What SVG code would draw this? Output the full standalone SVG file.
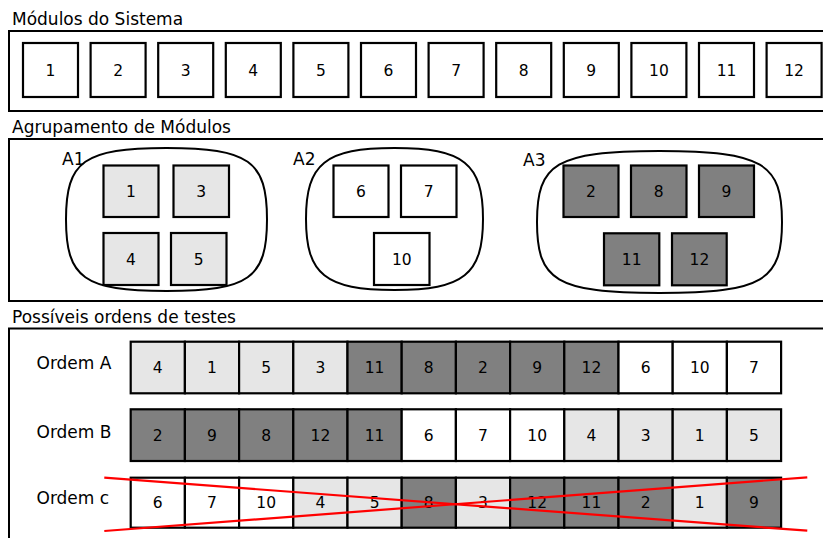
<svg xmlns="http://www.w3.org/2000/svg" width="823" height="538" viewBox="0 0 823 538">
<style>
text{font-family:"DejaVu Sans","Liberation Sans",sans-serif;fill:#000}
.t{font-size:17px}
.n{font-size:15.5px;text-anchor:middle}
.frame{fill:#fff;stroke:#000;stroke-width:2}
.b{stroke:#000;stroke-width:2.2}
.w{fill:#fff}
.l{fill:#e6e6e6}
.d{fill:#808080}
.blob{fill:none;stroke:#000;stroke-width:2}
.x{stroke:#f00;stroke-width:2.2;fill:none}
</style>
<rect width="823" height="538" fill="#fff"/>

<!-- Section 1 -->
<text class="t" x="12" y="25">Módulos do Sistema</text>
<rect class="frame" x="9" y="31" width="830" height="80"/>
<g id="m1"><rect class="b w" x="23" y="43" width="55" height="54"/><text class="n" x="50.5" y="75.5">1</text></g>
<g id="m2"><rect class="b w" x="90.6" y="43" width="55" height="54"/><text class="n" x="118.1" y="75.5">2</text></g>
<g id="m3"><rect class="b w" x="158.2" y="43" width="55" height="54"/><text class="n" x="185.7" y="75.5">3</text></g>
<g id="m4"><rect class="b w" x="225.8" y="43" width="55" height="54"/><text class="n" x="253.3" y="75.5">4</text></g>
<g id="m5"><rect class="b w" x="293.4" y="43" width="55" height="54"/><text class="n" x="320.9" y="75.5">5</text></g>
<g id="m6"><rect class="b w" x="361" y="43" width="55" height="54"/><text class="n" x="388.5" y="75.5">6</text></g>
<g id="m7"><rect class="b w" x="428.6" y="43" width="55" height="54"/><text class="n" x="456.1" y="75.5">7</text></g>
<g id="m8"><rect class="b w" x="496.2" y="43" width="55" height="54"/><text class="n" x="523.7" y="75.5">8</text></g>
<g id="m9"><rect class="b w" x="563.8" y="43" width="55" height="54"/><text class="n" x="591.3" y="75.5">9</text></g>
<g id="m10"><rect class="b w" x="631.4" y="43" width="55" height="54"/><text class="n" x="658.9" y="75.5">10</text></g>
<g id="m11"><rect class="b w" x="699" y="43" width="55" height="54"/><text class="n" x="726.5" y="75.5">11</text></g>
<g id="m12"><rect class="b w" x="766.6" y="43" width="55" height="54"/><text class="n" x="794.1" y="75.5">12</text></g>

<!-- Section 2 -->
<text class="t" x="12" y="132.5">Agrupamento de Módulos</text>
<rect class="frame" x="9" y="139" width="830" height="162"/>
<g id="A1">
<path class="blob" d="M166.5,148 C248.9,148 267,160.9 267,219.5 C267,278.1 248.9,291 166.5,291 C84.1,291 66,278.1 66,219.5 C66,160.9 84.1,148 166.5,148 Z"/>
<text class="t" x="62" y="165">A1</text>
<rect class="b l" x="103.5" y="165.5" width="55" height="51.5"/><text class="n" x="131" y="197">1</text>
<rect class="b l" x="173.5" y="165.5" width="55.5" height="51.5"/><text class="n" x="201.3" y="197">3</text>
<rect class="b l" x="103.5" y="233" width="55" height="52"/><text class="n" x="131" y="264.5">4</text>
<rect class="b l" x="171" y="233" width="55.5" height="52"/><text class="n" x="198.8" y="264.5">5</text>
</g>
<g id="A2">
<path class="blob" d="M394.5,148 C463.5,148 483,163.6 483,219 C483,274.4 463.5,290 394.5,290 C325.5,290 306,274.4 306,219 C306,163.6 325.5,148 394.5,148 Z"/>
<text class="t" x="293" y="165">A2</text>
<rect class="b w" x="333.5" y="165.5" width="55" height="51.5"/><text class="n" x="361" y="197">6</text>
<rect class="b w" x="401" y="165.5" width="55.5" height="51.5"/><text class="n" x="428.8" y="197">7</text>
<rect class="b w" x="374" y="233" width="55.5" height="52"/><text class="n" x="401.8" y="264.5">10</text>
</g>
<g id="A3">
<path class="blob" d="M659.5,151 C763.6,151 782,163.8 782,222 C782,280.2 763.6,293 659.5,293 C555.4,293 537,280.2 537,222 C537,163.8 555.4,151 659.5,151 Z"/>
<text class="t" x="523" y="166">A3</text>
<rect class="b d" x="563.5" y="165.5" width="55" height="51.5"/><text class="n" x="591" y="197">2</text>
<rect class="b d" x="631" y="165.5" width="55.5" height="51.5"/><text class="n" x="658.8" y="197">8</text>
<rect class="b d" x="699" y="165.5" width="55" height="51.5"/><text class="n" x="726.5" y="197">9</text>
<rect class="b d" x="604" y="233.3" width="55.3" height="52"/><text class="n" x="631.7" y="264.5">11</text>
<rect class="b d" x="672" y="233.3" width="54.7" height="52"/><text class="n" x="699.4" y="264.5">12</text>
</g>

<!-- Section 3 -->
<text class="t" x="12" y="322.5">Possíveis ordens de testes</text>
<rect class="frame" x="9" y="328.5" width="830" height="300"/>

<g id="ordemA">
<text class="t" x="36.5" y="368.5">Ordem A</text>
<rect class="b l" x="130.7" y="341.7" width="54.2" height="51.6"/><text class="n" x="157.8" y="373">4</text>
<rect class="b l" x="184.9" y="341.7" width="54.2" height="51.6"/><text class="n" x="212" y="373">1</text>
<rect class="b l" x="239.1" y="341.7" width="54.2" height="51.6"/><text class="n" x="266.2" y="373">5</text>
<rect class="b l" x="293.3" y="341.7" width="54.2" height="51.6"/><text class="n" x="320.4" y="373">3</text>
<rect class="b d" x="347.5" y="341.7" width="54.2" height="51.6"/><text class="n" x="374.6" y="373">11</text>
<rect class="b d" x="401.7" y="341.7" width="54.2" height="51.6"/><text class="n" x="428.8" y="373">8</text>
<rect class="b d" x="455.9" y="341.7" width="54.2" height="51.6"/><text class="n" x="483" y="373">2</text>
<rect class="b d" x="510.1" y="341.7" width="54.2" height="51.6"/><text class="n" x="537.2" y="373">9</text>
<rect class="b d" x="564.3" y="341.7" width="54.2" height="51.6"/><text class="n" x="591.4" y="373">12</text>
<rect class="b w" x="618.5" y="341.7" width="54.2" height="51.6"/><text class="n" x="645.6" y="373">6</text>
<rect class="b w" x="672.7" y="341.7" width="54.2" height="51.6"/><text class="n" x="699.8" y="373">10</text>
<rect class="b w" x="726.9" y="341.7" width="54.2" height="51.6"/><text class="n" x="754" y="373">7</text>
</g>

<g id="ordemB">
<text class="t" x="36.5" y="437.5">Ordem B</text>
<rect class="b d" x="130.7" y="409.3" width="54.2" height="51.7"/><text class="n" x="157.8" y="440.5">2</text>
<rect class="b d" x="184.9" y="409.3" width="54.2" height="51.7"/><text class="n" x="212" y="440.5">9</text>
<rect class="b d" x="239.1" y="409.3" width="54.2" height="51.7"/><text class="n" x="266.2" y="440.5">8</text>
<rect class="b d" x="293.3" y="409.3" width="54.2" height="51.7"/><text class="n" x="320.4" y="440.5">12</text>
<rect class="b d" x="347.5" y="409.3" width="54.2" height="51.7"/><text class="n" x="374.6" y="440.5">11</text>
<rect class="b w" x="401.7" y="409.3" width="54.2" height="51.7"/><text class="n" x="428.8" y="440.5">6</text>
<rect class="b w" x="455.9" y="409.3" width="54.2" height="51.7"/><text class="n" x="483" y="440.5">7</text>
<rect class="b w" x="510.1" y="409.3" width="54.2" height="51.7"/><text class="n" x="537.2" y="440.5">10</text>
<rect class="b l" x="564.3" y="409.3" width="54.2" height="51.7"/><text class="n" x="591.4" y="440.5">4</text>
<rect class="b l" x="618.5" y="409.3" width="54.2" height="51.7"/><text class="n" x="645.6" y="440.5">3</text>
<rect class="b l" x="672.7" y="409.3" width="54.2" height="51.7"/><text class="n" x="699.8" y="440.5">1</text>
<rect class="b l" x="726.9" y="409.3" width="54.2" height="51.7"/><text class="n" x="754" y="440.5">5</text>
</g>

<g id="ordemC">
<text class="t" x="36.5" y="504">Ordem c</text>
<rect class="b w" x="130.7" y="477.7" width="54.2" height="50"/><text class="n" x="157.8" y="508">6</text>
<rect class="b w" x="184.9" y="477.7" width="54.2" height="50"/><text class="n" x="212" y="508">7</text>
<rect class="b w" x="239.1" y="477.7" width="54.2" height="50"/><text class="n" x="266.2" y="508">10</text>
<rect class="b l" x="293.3" y="477.7" width="54.2" height="50"/><text class="n" x="320.4" y="508">4</text>
<rect class="b l" x="347.5" y="477.7" width="54.2" height="50"/><text class="n" x="374.6" y="508">5</text>
<rect class="b d" x="401.7" y="477.7" width="54.2" height="50"/><text class="n" x="428.8" y="508">8</text>
<rect class="b l" x="455.9" y="477.7" width="54.2" height="50"/><text class="n" x="483" y="508">3</text>
<rect class="b d" x="510.1" y="477.7" width="54.2" height="50"/><text class="n" x="537.2" y="508">12</text>
<rect class="b d" x="564.3" y="477.7" width="54.2" height="50"/><text class="n" x="591.4" y="508">11</text>
<rect class="b d" x="618.5" y="477.7" width="54.2" height="50"/><text class="n" x="645.6" y="508">2</text>
<rect class="b l" x="672.7" y="477.7" width="54.2" height="50"/><text class="n" x="699.8" y="508">1</text>
<rect class="b d" x="726.9" y="477.7" width="54.2" height="50"/><text class="n" x="754" y="508">9</text>
</g>

<g id="connectors">
<line class="x" x1="104.3" y1="477.7" x2="807.3" y2="530.7"/>
<line class="x" x1="104.3" y1="531" x2="807.3" y2="477.3"/>
</g>
</svg>
